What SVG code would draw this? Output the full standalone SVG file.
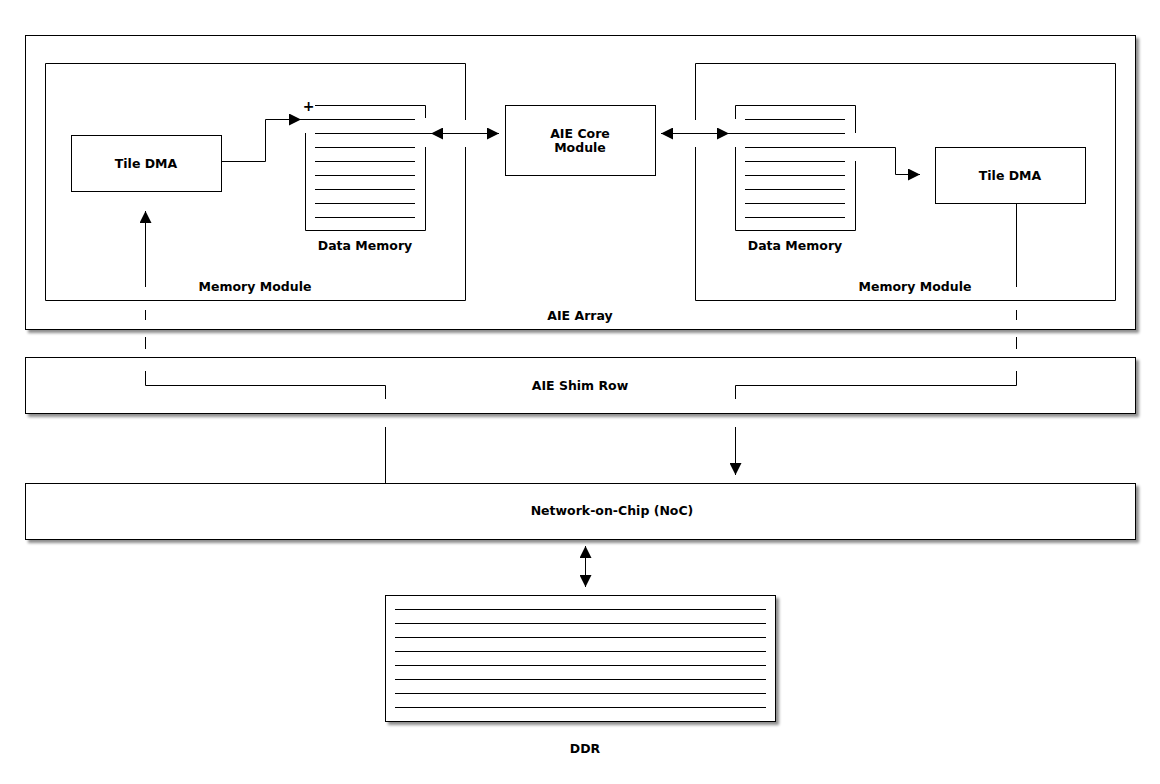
<svg xmlns="http://www.w3.org/2000/svg" width="1160" height="784" viewBox="0 0 1160 784">
<defs>
<filter id="sh" x="-5%" y="-20%" width="110%" height="150%">
<feGaussianBlur in="SourceAlpha" stdDeviation="1.5"/>
<feOffset dx="3" dy="3" result="b"/>
<feComponentTransfer><feFuncA type="linear" slope="0.45"/></feComponentTransfer>
<feMerge><feMergeNode/><feMergeNode in="SourceGraphic"/></feMerge>
</filter>
<marker id="ah" markerUnits="userSpaceOnUse" markerWidth="12" markerHeight="12" viewBox="0 0 10 10" refX="10" refY="5" orient="auto-start-reverse">
<path d="M0,0 L10,5 L0,10 Z" fill="#000"/>
</marker>
</defs>
<style>
.box{fill:#fff;stroke:#000;stroke-width:1}
.ln{fill:none;stroke:#000;stroke-width:1}
.t{font-family:"DejaVu Sans",Verdana,sans-serif;font-weight:bold;font-size:12.5px;fill:#000;text-anchor:middle}
</style>
<rect width="1160" height="784" fill="#fff"/>

<g id="aie-array">
<rect class="box" x="25.5" y="35.5" width="1110" height="294" filter="url(#sh)"/>
<text class="t" x="580" y="320">AIE Array</text>
</g>
<g id="shim-row">
<rect class="box" x="25.5" y="357.5" width="1110" height="56" filter="url(#sh)"/>
<text class="t" x="580" y="390">AIE Shim Row</text>
</g>
<g id="noc">
<rect class="box" x="25.5" y="483.5" width="1110" height="56" filter="url(#sh)"/>
<text class="t" x="612" y="515">Network-on-Chip (NoC)</text>
</g>
<g id="ddr">
<rect class="box" x="385.5" y="595.5" width="390" height="126" filter="url(#sh)"/>
<path class="ln" d="M395,609.5H766M395,623.5H766M395,637.5H766M395,651.5H766M395,665.5H766M395,679.5H766M395,693.5H766M395,707.5H766"/>
<text class="t" x="585" y="753">DDR</text>
</g>

<g id="memory-module-left">
<path class="ln" d="M465.5,120V63.5H45.5V300.5H465.5V147"/>
<text class="t" x="255" y="291">Memory Module</text>
</g>
<g id="memory-module-right">
<path class="ln" d="M695.5,120V63.5H1115.5V300.5H695.5V147"/>
<text class="t" x="915" y="291">Memory Module</text>
</g>

<g id="tile-dma-left">
<rect class="box" x="71.5" y="135.5" width="150" height="56"/>
<text class="t" x="146" y="168">Tile DMA</text>
</g>
<g id="tile-dma-right">
<rect class="box" x="935.5" y="147.5" width="150" height="56"/>
<text class="t" x="1010" y="180">Tile DMA</text>
</g>
<g id="aie-core">
<rect class="box" x="505.5" y="105.5" width="150" height="70"/>
<text class="t" x="580" y="138">AIE Core</text>
<text class="t" x="580" y="152">Module</text>
</g>

<g id="data-memory-left">
<path class="ln" d="M315,105.5H425.5V118M425.5,147V230.5H305.5V133"/>
<path class="ln" d="M300,119.5H415M315,133.5H431M315,147.5H415M315,161.5H415M315,175.5H415M315,189.5H415M315,203.5H415M315,217.5H415"/>
<text x="308.5" y="110.5" style="font-family:'DejaVu Sans',sans-serif;font-weight:bold;font-size:14px;text-anchor:middle">+</text>
<text class="t" x="365" y="250">Data Memory</text>
</g>
<g id="data-memory-right">
<path class="ln" d="M735.5,119V105.5H855.5V133M855.5,161V230.5H735.5V147"/>
<path class="ln" d="M745,119.5H845M729,133.5H845M745,161.5H845M745,175.5H845M745,189.5H845M745,203.5H845M745,217.5H845"/>
<text class="t" x="795" y="250">Data Memory</text>
</g>

<g id="connectors">
<path class="ln" d="M222,161.5H265.5V119.5H301" marker-end="url(#ah)"/>
<path class="ln" d="M431,133.5H499" marker-start="url(#ah)" marker-end="url(#ah)"/>
<path class="ln" d="M661,133.5H729" marker-start="url(#ah)" marker-end="url(#ah)"/>
<path class="ln" d="M745,147.5H895.5V174.5H920" marker-end="url(#ah)"/>
<path class="ln" d="M145.5,287V211" marker-end="url(#ah)"/>
<path class="ln" d="M145.5,310V320M145.5,337V349M145.5,371V385.5H385.5V399M385.5,427V483"/>
<path class="ln" d="M1016.5,204V287M1016.5,310V320M1016.5,337V349M1016.5,371V385.5H735.5V399"/>
<path class="ln" d="M735.5,427V475" marker-end="url(#ah)"/>
<path class="ln" d="M585.5,546V587" marker-start="url(#ah)" marker-end="url(#ah)"/>
</g>
</svg>
